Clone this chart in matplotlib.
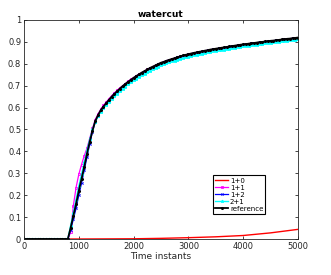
import numpy as np
import matplotlib.pyplot as plt

# time instants (sampled every 50)
t = np.arange(0, 5001, 50)

zeros = [0.0] * 17  # 0 .. 800

reference = zeros + [
    0.050, 0.105, 0.160, 0.220, 0.275, 0.330, 0.390, 0.445, 0.495, 0.538,
    0.565, 0.588, 0.605, 0.620, 0.635, 0.650, 0.663, 0.675, 0.687, 0.698,
    0.708, 0.718, 0.727, 0.736, 0.744, 0.752, 0.760, 0.767, 0.774, 0.781,
    0.787, 0.793, 0.799, 0.805, 0.809, 0.814, 0.818, 0.822, 0.826, 0.830,
    0.834, 0.838, 0.841, 0.844, 0.847, 0.850, 0.852, 0.855, 0.857, 0.860,
    0.862, 0.865, 0.867, 0.869, 0.871, 0.873, 0.875, 0.877, 0.879, 0.881,
    0.883, 0.885, 0.887, 0.889, 0.890, 0.892, 0.894, 0.895, 0.897, 0.899,
    0.900, 0.902, 0.903, 0.905, 0.906, 0.908, 0.909, 0.911, 0.912, 0.914,
    0.915, 0.917, 0.918, 0.920]

w11 = zeros + [
    0.030, 0.150, 0.235, 0.295, 0.340, 0.380, 0.415, 0.460, 0.505, 0.545,
    0.570, 0.592, 0.610, 0.625, 0.640, 0.654, 0.667, 0.679, 0.690, 0.700,
    0.710, 0.720, 0.729, 0.737, 0.745, 0.753, 0.760, 0.767, 0.774, 0.781,
    0.787, 0.793, 0.799, 0.804, 0.809, 0.814, 0.818, 0.822, 0.826, 0.830,
    0.834, 0.837, 0.840, 0.843, 0.846, 0.849, 0.852, 0.854, 0.857, 0.859,
    0.862, 0.864, 0.866, 0.868, 0.870, 0.872, 0.874, 0.876, 0.878, 0.880,
    0.882, 0.884, 0.886, 0.888, 0.889, 0.891, 0.893, 0.894, 0.896, 0.898,
    0.899, 0.901, 0.902, 0.904, 0.905, 0.907, 0.908, 0.910, 0.911, 0.913,
    0.914, 0.916, 0.917, 0.919]

w12 = zeros + [
    0.040, 0.090, 0.140, 0.200, 0.255, 0.315, 0.375, 0.435, 0.490, 0.535,
    0.563, 0.586, 0.604, 0.619, 0.634, 0.648, 0.661, 0.673, 0.685, 0.696,
    0.706, 0.716, 0.725, 0.734, 0.742, 0.750, 0.758, 0.765, 0.772, 0.779,
    0.785, 0.791, 0.797, 0.803, 0.808, 0.813, 0.817, 0.821, 0.825, 0.829,
    0.833, 0.837, 0.840, 0.843, 0.846, 0.849, 0.851, 0.854, 0.856, 0.859,
    0.861, 0.864, 0.866, 0.868, 0.870, 0.872, 0.874, 0.876, 0.878, 0.880,
    0.882, 0.884, 0.886, 0.888, 0.889, 0.891, 0.893, 0.894, 0.896, 0.898,
    0.899, 0.901, 0.902, 0.904, 0.905, 0.907, 0.908, 0.910, 0.911, 0.913,
    0.914, 0.916, 0.917, 0.919]

w21 = zeros + [
    0.060, 0.120, 0.180, 0.240, 0.295, 0.350, 0.405, 0.455, 0.500, 0.535,
    0.560, 0.580, 0.597, 0.612, 0.626, 0.640, 0.652, 0.664, 0.675, 0.686,
    0.696, 0.706, 0.715, 0.724, 0.732, 0.740, 0.748, 0.755, 0.762, 0.769,
    0.775, 0.781, 0.787, 0.793, 0.798, 0.803, 0.807, 0.811, 0.815, 0.819,
    0.823, 0.827, 0.830, 0.833, 0.836, 0.839, 0.842, 0.845, 0.847, 0.850,
    0.852, 0.855, 0.857, 0.859, 0.861, 0.863, 0.865, 0.867, 0.869, 0.871,
    0.873, 0.875, 0.877, 0.879, 0.881, 0.883, 0.885, 0.886, 0.888, 0.890,
    0.891, 0.893, 0.895, 0.896, 0.898, 0.899, 0.901, 0.902, 0.904, 0.905,
    0.907, 0.908, 0.910, 0.911]

# 1+0 curve, coarser samples
t10 = [0, 500, 1000, 1500, 2000, 2500, 3000, 3500, 4000, 4500, 5000]
w10 = [0.0, 0.0, 0.0, 0.0005, 0.001, 0.003, 0.006, 0.010, 0.016, 0.028, 0.044]

fig = plt.figure(figsize=(3.31, 2.75), dpi=100)
ax = fig.add_axes([0.0725, 0.1309, 0.8278, 0.7964])

ax.plot(t10, w10, color='red', lw=1, label='1+0')
ax.plot(t, w11, color='magenta', lw=0.9, marker='s', ms=1.6, mfc='none', mew=0.6, label='1+1')
ax.plot(t, w12, color='blue', lw=0.9, marker='x', ms=1.6, mew=0.6, label='1+2')
ax.plot(t, w21, color='cyan', lw=1.0, marker='*', ms=2.2, mew=0.5, label='2+1')
ax.plot(t, reference, color='black', lw=1.3, marker='.', ms=2.4, label='reference')

ax.set_xlim(0, 5000)
ax.set_ylim(0, 1)
ax.set_xticks([0, 1000, 2000, 3000, 4000, 5000])
ax.set_yticks(np.arange(0, 1.01, 0.1))
ax.set_yticklabels(['0', '0.1', '0.2', '0.3', '0.4', '0.5', '0.6', '0.7', '0.8', '0.9', '1'])
ax.tick_params(direction='in', top=True, right=True, length=2.5, width=0.6,
               labelsize=6, colors='#262626', pad=2)
for s in ax.spines.values():
    s.set_color('#262626')
    s.set_linewidth(0.6)

ax.set_title('watercut', fontsize=6.5, fontweight='bold', pad=2)
ax.set_xlabel('Time instants', fontsize=6.5, color='#262626', labelpad=1)

leg = ax.legend(loc='lower left', bbox_to_anchor=(0.691, 0.115), fontsize=5,
                fancybox=False, edgecolor='black', framealpha=1,
                handlelength=1.8, handletextpad=0.3, borderpad=0.3,
                labelspacing=0.15, borderaxespad=0)
leg.get_frame().set_linewidth(0.8)

fig.savefig('out.png', dpi=100)
